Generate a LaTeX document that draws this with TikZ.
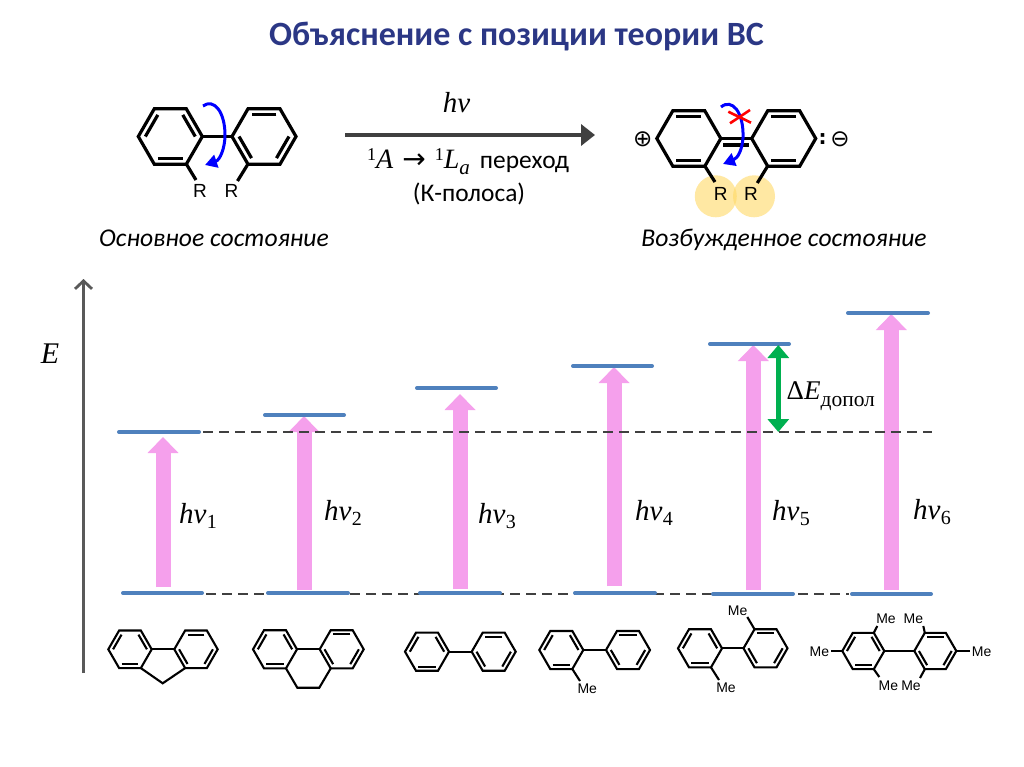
\documentclass[tikz,border=0pt]{standalone}
\usepackage{fontspec}
\setmainfont{Carlito}
\newfontfamily\chemf{Liberation Sans}
\newfontfamily\symf{DejaVu Sans}
\newfontfamily\cyrserif{Liberation Serif}
\usetikzlibrary{arrows.meta}
\definecolor{titleblue}{HTML}{2B3785}
\definecolor{levelblue}{HTML}{4F81BD}
\definecolor{pinkup}{HTML}{F5A0EC}
\definecolor{greenup}{HTML}{00B050}
\definecolor{darkdash}{HTML}{404040}
\definecolor{axisgrey}{HTML}{595959}
\definecolor{halo}{HTML}{FFD966}
\tikzset{
  molbig/.style={line width=3.2pt,line join=miter,black},
  molsmall/.style={line width=2.1pt,line join=miter,black},
  level/.style={line width=4pt,levelblue,line cap=round},
  refdash/.style={line width=1.8pt,darkdash,dash pattern=on 10pt off 6pt},
  fat/.style={pinkup,line width=15pt,-{Triangle[length=16pt,width=30pt]}},
  diff/.style={greenup,line width=4.5pt,{Triangle[length=13pt,width=21pt]}-{Triangle[length=13pt,width=21pt]}},
  twist/.style={line width=3pt,blue,-{Triangle[length=12pt,width=13pt]}},
  rlabel/.style={font=\chemf\fontsize{19}{19}\selectfont,inner sep=0pt},
  melabel/.style={font=\chemf\fontsize{14}{14}\selectfont,inner sep=0pt},
  hv/.style={font=\cyrserif\fontsize{29}{29}\selectfont,inner sep=0pt},
  statelabel/.style={font=\itshape\fontsize{25.6}{25.6}\selectfont,inner sep=0pt,anchor=base},
  textlabel/.style={font=\fontsize{25.4}{25.4}\selectfont,inner sep=0pt},
  symlabel/.style={font=\symf\fontsize{23}{23}\selectfont,inner sep=0pt},
}
% centre x, centre y, radius, style, list of double-bond edges (start angle)
\newcommand{\hexring}[5]{%
  \draw[#4] ({#1+#3},{#2})
    \foreach \va in {60,120,...,300}{ -- ({#1+#3*cos(\va)},{#2-#3*sin(\va)}) } -- cycle;
  \edef\edgelist{#5}%
  \foreach \ea in \edgelist{%
    \pgfmathsetmacro{\eb}{\ea+60}%
    \draw[#4] ({#1+.78*#3*cos(\ea)},{#2-.78*#3*sin(\ea)}) -- ({#1+.78*#3*cos(\eb)},{#2-.78*#3*sin(\eb)});
  }%
}
\newcommand{\dbleft}{0,120,240}
\newcommand{\dbright}{60,180,300}
\newcommand{\hvsub}[1]{\textit{hν}\kern.5pt\raisebox{-5pt}{\fontsize{20}{20}\selectfont #1}}
\begin{document}
\begin{tikzpicture}[x=1pt,y=-1pt]
\useasboundingbox (0,0) rectangle (1024,767);
\fill[white] (0,0) rectangle (1024,767);
% title
\node[inner sep=0pt,text=titleblue,font=\bfseries\fontsize{34}{34}\selectfont] (title) at (516.5,37) {Объяснение с позиции теории ВС};

% ground-state biphenyl
\hexring{170.3}{136.5}{32}{molbig}{\dbleft}
\hexring{264}{136.5}{32}{molbig}{\dbright}
\draw[molbig] (202.3,136.5) -- (232,136.5);
\node[rlabel] (r1) at (200,191) {R};
\node[rlabel] (r2) at (231.5,191) {R};
\draw[molbig] (186.3,164) -- (196,180);
\draw[molbig] (248,164) -- (237.5,181);
\draw[twist] (203,106) .. controls (214,98) and (225,112) .. (225,135)
   .. controls (225,148) and (220,160) .. (205,165);
\node[statelabel] (s1) at (214,246) {Основное состояние};

% central arrow
\coordinate (mainA) at (345,135);
\coordinate (mainB) at (595,135);
\draw[darkdash,line width=4pt,-{Triangle[length=14pt,width=21pt]}] (mainA) -- (mainB);
\node[hv] (hvmain) at (456.5,103) {\textit{hν}};
\node[textlabel,anchor=base west] (trans) at (367,169) {{\cyrserif\fontsize{28}{28}\selectfont\raisebox{8pt}{\fontsize{18}{18}\selectfont 1}\textit{A}\kern 9pt{\symf\fontsize{28}{28}\selectfont →}\kern 9pt\raisebox{8pt}{\fontsize{18}{18}\selectfont 1}\textit{L}\raisebox{-6pt}{\fontsize{21}{21}\selectfont\textit{a}}}\kern 10pt переход};
\node[textlabel] (band) at (469,194) {(К-полоса)};

% excited-state
\fill[halo,opacity=.6] (715.8,196.3) circle (21);
\fill[halo,opacity=.6] (754,196.3) circle (21);
\hexring{688.8}{138.5}{32}{molbig}{60,240}
\hexring{783.7}{138.5}{32}{molbig}{60,240}
\draw[molbig] (720.8,138.5) -- (751.7,138.5);
\draw[molbig] (723,145) -- (748.5,145);
\draw[molbig] (704.8,166) -- (715,182);
\draw[molbig] (767.7,166) -- (757.3,183);
\node[rlabel] (r3) at (720.7,194) {R};
\node[rlabel] (r4) at (751,194) {R};
\draw[twist] (721,107) .. controls (732,98) and (744,112) .. (743,138)
   .. controls (742,150) and (738,158) .. (723,164);
\draw[red,line width=2.6pt] (728.3,111.7) -- (751,122.7);
\draw[red,line width=2.6pt] (730,123.3) -- (750,110);
\node[symlabel] (plus) at (642.7,139) {⊕};
\node[symlabel,font=\symf\bfseries\fontsize{20}{20}\selectfont] (colon) at (822.7,139) {:};
\node[symlabel] (minus) at (840,139) {⊖};
\node[statelabel] (s2) at (784,246) {Возбужденное состояние};

% axis
\coordinate (axA) at (83.5,673);
\coordinate (axB) at (83.5,279);
\draw[axisgrey,line width=2.8pt,-{Straight Barb[length=8pt,width=17pt,line width=2.8pt]}] (axA) -- (axB);
\node[hv,font=\cyrserif\itshape\fontsize{30}{30}\selectfont] (E) at (50,354) {E};

% pink transitions
\foreach \n/\x/\a/\b in {1/163/587/437,2/304/590/416,3/460/589/394,4/614/586/367,5/753.3/590/345,6/891.3/590/314}{
  \coordinate (p\n a) at (\x,\a);
  \coordinate (p\n b) at (\x,\b);
  \draw[fat] (p\n a) -- (p\n b);
}
% reference dashes
\coordinate (dashA1) at (203,432);
\coordinate (dashA2) at (932,432);
\coordinate (dashB1) at (206,594);
\coordinate (dashB2) at (849,594);
\draw[refdash] (dashA1) -- (dashA2);
\draw[refdash] (dashB1) -- (dashB2);
% levels
\foreach \n/\a/\b/\y in {u1/119/199/432,u2/265/344/415,u3/417/496/388,u4/573/652/366,u5/710/789/344,u6/848/928/313,
  d1/123/202/593,d2/268/348/593,d3/420/500/593,d4/575/655/593,d5/713/793/594,d6/852/931/594}{
  \coordinate (\n a) at (\a,\y);
  \coordinate (\n b) at (\b,\y);
  \draw[level] (\n a) -- (\n b);
}
% green difference arrow
\coordinate (gA) at (778.3,345);
\coordinate (gB) at (778.3,432);
\draw[diff] (gA) -- (gB);
\node[hv,anchor=base west,font=\cyrserif\fontsize{27}{27}\selectfont] (dE) at (786.5,399) {Δ\textit{E}\raisebox{-7pt}{\fontsize{21.5}{21.5}\selectfont допол}};
% labels
\node[hv] (h1) at (198,516) {\hvsub{1}};
\node[hv] (h2) at (343,513) {\hvsub{2}};
\node[hv] (h3) at (497,516) {\hvsub{3}};
\node[hv] (h4) at (654,513) {\hvsub{4}};
\node[hv] (h5) at (791,513) {\hvsub{5}};
\node[hv] (h6) at (932,512) {\hvsub{6}};

% fluorene
\hexring{130}{649.3}{21.7}{molsmall}{\dbleft}
\hexring{196}{649.3}{21.7}{molsmall}{\dbright}
\draw[molsmall] (151.7,649.3) -- (174.3,649.3);
\draw[molsmall] (141,668.2) -- (162.7,683.3) -- (185,668.2);
% dihydrophenanthrene
\hexring{275}{649.3}{22}{molsmall}{\dbleft}
\hexring{341.7}{649.3}{22}{molsmall}{\dbright}
\draw[molsmall] (297,649.3) -- (319.7,649.3);
\draw[molsmall] (286,668.4) -- (297.3,687.7) -- (319.3,687.7) -- (330.7,668.4);
% biphenyl
\hexring{427}{651.7}{22}{molsmall}{\dbleft}
\hexring{493.7}{651.7}{22}{molsmall}{\dbright}
\draw[molsmall] (449,651.7) -- (471.7,651.7);
% 2-methylbiphenyl
\hexring{561.3}{650}{22}{molsmall}{\dbleft}
\hexring{628}{650}{22}{molsmall}{\dbright}
\draw[molsmall] (583.3,650) -- (606,650);
\draw[molsmall] (572.3,669) -- (580,681);
\node[melabel] (m1) at (587.3,689) {Me};
% 2,2'-dimethyl
\hexring{700}{648.3}{22}{molsmall}{\dbleft}
\hexring{765.5}{648.3}{22}{molsmall}{\dbright}
\draw[molsmall] (722,648.3) -- (743.5,648.3);
\draw[molsmall] (711,667.4) -- (719,680);
\draw[molsmall] (754.5,629.2) -- (747.3,617);
\node[melabel] (m2) at (726,687.3) {Me};
\node[melabel] (m3) at (737.7,611) {Me};
% hexamethyl
\hexring{863.3}{651}{21}{molsmall}{\dbleft}
\hexring{935.3}{651}{21}{molsmall}{\dbright}
\draw[molsmall] (884.3,651) -- (914.3,651);
\draw[molsmall] (873.8,632.8) -- (877.3,626);
\draw[molsmall] (873.8,669.2) -- (879.3,677);
\draw[molsmall] (924.8,632.8) -- (923.3,626);
\draw[molsmall] (924.8,669.2) -- (920,678);
\draw[molsmall] (842.3,651) -- (830.7,651);
\draw[molsmall] (956.3,651) -- (970,651);
\node[melabel] (m4) at (886,619) {Me};
\node[melabel] (m5) at (913.3,619) {Me};
\node[melabel] (m6) at (888.3,685.7) {Me};
\node[melabel] (m7) at (911,685.7) {Me};
\node[melabel] (m8) at (819.3,651.7) {Me};
\node[melabel] (m9) at (981.7,651.7) {Me};
\end{tikzpicture}
\end{document}
